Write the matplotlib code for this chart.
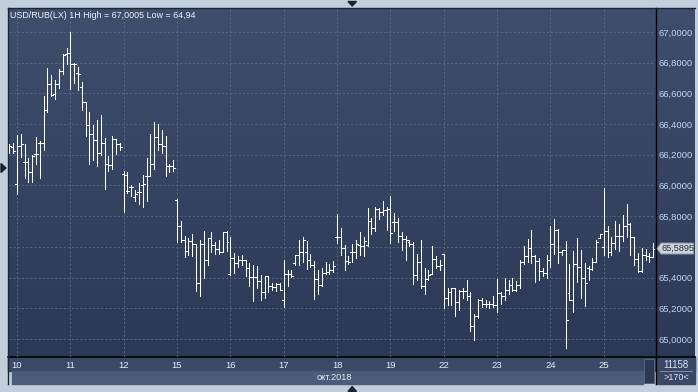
import numpy as np
import matplotlib
matplotlib.use("Agg")
import matplotlib.pyplot as plt
from matplotlib.patches import Polygon, Rectangle

plt.rcParams['font.family'] = ['Liberation Sans', 'DejaVu Sans']

W, H = 698, 392

# USD/RUB hourly bars: last 2 of 9 oct, then 14 bars per day 10..25 oct 2018
opens = [66.259, 66.250,
         66.011, 66.254, 66.154, 66.154, 66.085, 66.207, 66.276, 66.276, 66.489, 66.663, 66.593, 66.659, 66.746, 66.859,
         66.863, 66.789, 66.733, 66.641, 66.546, 66.393, 66.337, 66.298, 66.211, 66.276, 66.137, 66.133, 66.302, 66.267,
         66.072, 65.963, 65.993, 65.924, 65.959, 66.002, 66.063, 66.063, 66.141, 66.315, 66.272, 66.254, 66.128, 66.128,
         65.904, 65.735, 65.643, 65.574, 65.639, 65.622, 65.365, 65.617, 65.513, 65.657, 65.613, 65.587, 65.570, 65.696,
         65.422, 65.530, 65.496, 65.513, 65.513, 65.465, 65.404, 65.404, 65.378, 65.309, 65.413, 65.348, 65.339, 65.357,
         65.257, 65.422, 65.422, 65.496, 65.548, 65.565, 65.565, 65.517, 65.483, 65.391, 65.352, 65.430, 65.439, 65.448,
         65.665, 65.665, 65.596, 65.509, 65.565, 65.570, 65.613, 65.604, 65.613, 65.770, 65.722, 65.848, 65.830, 65.843,
         65.848, 65.761, 65.761, 65.670, 65.652, 65.635, 65.622, 65.417, 65.504, 65.348, 65.391, 65.422, 65.522, 65.474,
         65.557, 65.270, 65.309, 65.335, 65.239, 65.313, 65.313, 65.283, 65.083, 65.148, 65.252, 65.230, 65.226, 65.226,
         65.222, 65.300, 65.278, 65.317, 65.352, 65.317, 65.352, 65.504, 65.539, 65.596, 65.539, 65.509, 65.443, 65.430,
         65.513, 65.622, 65.709, 65.565, 65.578, 65.300, 65.252, 65.487, 65.470, 65.400, 65.465, 65.457, 65.504, 65.661,
         65.602, 65.702, 65.567, 65.624, 65.672, 65.672, 65.737, 65.746, 65.663, 65.524, 65.441, 65.550, 65.541, 65.537]
highs = [66.272, 66.276,
         66.326, 66.337, 66.272, 66.180, 66.198, 66.315, 66.289, 66.580, 66.763, 66.720, 66.685, 66.759, 66.859, 66.893,
         67.0005, 66.798, 66.772, 66.672, 66.546, 66.476, 66.393, 66.424, 66.459, 66.311, 66.189, 66.320, 66.302, 66.276,
         66.093, 66.089, 66.002, 65.972, 66.015, 66.067, 66.176, 66.337, 66.411, 66.398, 66.359, 66.324, 66.141, 66.167,
         65.909, 65.770, 65.674, 65.657, 65.687, 65.622, 65.648, 65.704, 65.661, 65.696, 65.635, 65.648, 65.700, 65.704,
         65.665, 65.561, 65.543, 65.548, 65.517, 65.496, 65.483, 65.474, 65.417, 65.413, 65.413, 65.365, 65.365, 65.365,
         65.513, 65.448, 65.448, 65.548, 65.643, 65.665, 65.639, 65.557, 65.509, 65.448, 65.465, 65.504, 65.491, 65.509,
         65.817, 65.722, 65.613, 65.543, 65.617, 65.648, 65.696, 65.665, 65.852, 65.787, 65.857, 65.852, 65.896, 65.857,
         65.930, 65.822, 65.787, 65.700, 65.670, 65.648, 65.635, 65.557, 65.643, 65.465, 65.448, 65.609, 65.539, 65.517,
         65.557, 65.330, 65.335, 65.335, 65.317, 65.330, 65.383, 65.309, 65.161, 65.261, 65.265, 65.252, 65.248, 65.283,
         65.391, 65.309, 65.396, 65.387, 65.396, 65.378, 65.513, 65.604, 65.652, 65.713, 65.548, 65.526, 65.465, 65.548,
         65.739, 65.783, 65.717, 65.583, 65.639, 65.487, 65.574, 65.661, 65.583, 65.496, 65.478, 65.530, 65.648, 65.687,
         65.985, 65.733, 65.667, 65.767, 65.746, 65.807, 65.880, 65.754, 65.663, 65.563, 65.593, 65.589, 65.559, 65.628]
lows = [66.211, 66.211,
        65.946, 66.185, 66.050, 66.024, 66.020, 66.141, 66.046, 66.228, 66.480, 66.580, 66.563, 66.633, 66.728, 66.789,
        66.628, 66.667, 66.620, 66.493, 66.320, 66.141, 66.163, 66.128, 66.198, 65.976, 66.093, 66.107, 66.207, 66.228,
        65.828, 65.950, 65.933, 65.902, 65.880, 65.863, 65.902, 66.059, 66.107, 66.228, 66.211, 66.063, 66.085, 66.093,
        65.630, 65.630, 65.535, 65.548, 65.543, 65.313, 65.278, 65.396, 65.483, 65.565, 65.552, 65.557, 65.565, 65.574,
        65.417, 65.430, 65.470, 65.483, 65.409, 65.343, 65.248, 65.335, 65.252, 65.265, 65.304, 65.322, 65.313, 65.317,
        65.209, 65.348, 65.404, 65.483, 65.483, 65.500, 65.457, 65.470, 65.261, 65.296, 65.343, 65.422, 65.422, 65.435,
        65.626, 65.548, 65.452, 65.491, 65.504, 65.526, 65.548, 65.543, 65.604, 65.687, 65.704, 65.783, 65.809, 65.709,
        65.626, 65.704, 65.635, 65.578, 65.517, 65.604, 65.361, 65.387, 65.330, 65.291, 65.387, 65.422, 65.461, 65.452,
        65.200, 65.222, 65.222, 65.148, 65.191, 65.265, 65.252, 65.052, 64.996, 65.135, 65.209, 65.209, 65.204, 65.209,
        65.174, 65.230, 65.252, 65.296, 65.313, 65.313, 65.335, 65.487, 65.500, 65.496, 65.370, 65.387, 65.409, 65.396,
        65.470, 65.557, 65.496, 65.548, 64.940, 65.252, 65.178, 65.370, 65.270, 65.217, 65.383, 65.448, 65.500, 65.657,
        65.546, 65.533, 65.550, 65.589, 65.576, 65.637, 65.663, 65.546, 65.485, 65.437, 65.437, 65.515, 65.502, 65.537]
closes = [66.254, 66.224,
          66.254, 66.272, 66.154, 66.085, 66.193, 66.207, 66.276, 66.489, 66.663, 66.589, 66.659, 66.746, 66.850, 66.863,
          66.789, 66.789, 66.728, 66.546, 66.393, 66.337, 66.298, 66.211, 66.276, 66.137, 66.133, 66.302, 66.267, 66.250,
          66.067, 65.963, 65.989, 65.946, 65.959, 66.007, 66.063, 66.141, 66.315, 66.272, 66.254, 66.128, 66.128, 66.115,
          65.735, 65.643, 65.574, 65.639, 65.622, 65.365, 65.617, 65.513, 65.657, 65.613, 65.587, 65.570, 65.696, 65.635,
          65.530, 65.496, 65.513, 65.513, 65.465, 65.404, 65.404, 65.378, 65.309, 65.413, 65.348, 65.339, 65.357, 65.322,
          65.422, 65.422, 65.413, 65.548, 65.565, 65.643, 65.517, 65.483, 65.391, 65.352, 65.430, 65.439, 65.448, 65.474,
          65.665, 65.596, 65.509, 65.500, 65.570, 65.622, 65.604, 65.639, 65.770, 65.722, 65.848, 65.830, 65.843, 65.848,
          65.691, 65.761, 65.670, 65.652, 65.648, 65.622, 65.417, 65.504, 65.348, 65.391, 65.417, 65.522, 65.474, 65.483,
          65.270, 65.309, 65.335, 65.239, 65.313, 65.313, 65.283, 65.083, 65.148, 65.252, 65.230, 65.226, 65.226, 65.222,
          65.300, 65.278, 65.317, 65.352, 65.317, 65.352, 65.504, 65.539, 65.596, 65.539, 65.509, 65.443, 65.430, 65.513,
          65.622, 65.709, 65.565, 65.578, 65.126, 65.252, 65.487, 65.470, 65.400, 65.365, 65.457, 65.504, 65.630, 65.683,
          65.702, 65.567, 65.624, 65.672, 65.672, 65.737, 65.746, 65.663, 65.524, 65.441, 65.550, 65.541, 65.537, 65.5895]

day_labels = ['10', '11', '12', '15', '16', '17', '18', '19', '22', '23', '24', '25']
bars_per_day = 14
first_day_bar = 2
price_ticks = [65.0, 65.2, 65.4, 65.6, 65.8, 66.0, 66.2, 66.4, 66.6, 66.8, 67.0]
title = 'USD/RUB(LX) 1H High = 67,0005 Low = 64,94'


def fx(x):
    return x / W


def fy(y):
    return 1 - y / H


fig = plt.figure(figsize=(W / 100, H / 100), dpi=100, facecolor='#c3cedc')

# background layer in pixel coords
bg = fig.add_axes([0, 0, 1, 1])
bg.set_xlim(0, W)
bg.set_ylim(H, 0)
bg.axis('off')

top = np.array([63, 78, 108]) / 255
bot = np.array([43, 57, 87]) / 255
t = np.linspace(0, 1, 256)[:, None, None]
grad = top + (bot - top) * t
bg.imshow(grad, extent=(8, 695, 357, 8), aspect='auto', origin='upper', zorder=0)

# bottom date panel
bg.add_patch(Rectangle((8, 357), 687, 14, color='#3b4967', zorder=1))
bg.add_patch(Rectangle((12, 371), 631, 12.5, color='#4c5b78', zorder=1))
bg.add_patch(Rectangle((643.5, 358.5), 10.5, 24.5, fc='#2c3853', ec='#56637c', lw=0.7, zorder=2))
bg.add_patch(Rectangle((656, 358), 39, 25.5, color='#3a4866', zorder=1))
bg.plot([660, 692], [370.5, 370.5], color='#7d8ca6', lw=0.7, zorder=3)

# frame lines
bg.plot([8, 695], [357, 357], color='black', lw=1.2, zorder=3)
bg.plot([655.5, 655.5], [8, 383.5], color='black', lw=1.0, zorder=3)
bg.plot([7.5, 7.5], [7.5, 384], color='#1c2536', lw=1.0, zorder=3)
bg.plot([7.5, 695], [7.5, 7.5], color='#1c2536', lw=1.0, zorder=3)

# small navigation triangles
tri = dict(color='#1a2333', zorder=4)
bg.add_patch(Polygon([[348, 1.5], [356.5, 1.5], [352.2, 6]], **tri))
bg.add_patch(Polygon([[348, 391.5], [356.5, 391.5], [352.2, 386.5]], **tri))
bg.add_patch(Polygon([[1, 163.5], [1, 172.5], [6, 168]], **tri))

# main chart
ax = fig.add_axes([fx(9), fy(357), 646 / W, 349 / H])
ax.set_facecolor('none')
x = np.arange(len(opens))
ax.vlines(x, lows, highs, color='white', lw=0.72, antialiased=False, zorder=3)
ax.hlines(opens, x - 0.5, x, color='white', lw=0.72, antialiased=False, zorder=3)
ax.hlines(closes, x, x + 0.5, color='white', lw=0.72, antialiased=False, zorder=3)

ax.set_xlim(-0.1, 169.45)
ax.set_ylim(64.883, 67.156)
day_pos = [first_day_bar + bars_per_day * k for k in range(len(day_labels))]
ax.set_xticks(day_pos)
ax.set_xticklabels(day_labels)
ax.set_yticks(price_ticks)
# the 65,6000 label sits under the last-price box, as in the original
ax.set_yticklabels(['' if abs(v - 65.6) < 1e-9 else f'{v:.4f}'.replace('.', ',') for v in price_ticks])
ax.yaxis.tick_right()
ax.grid(True, color='#56667f', lw=0.75, linestyle=(0, (2, 2)), zorder=1)
for s in ax.spines.values():
    s.set_visible(False)
ax.tick_params(axis='both', length=0)
ax.tick_params(axis='y', pad=2.2, labelsize=6.8, labelcolor='#c2d5f0')
ax.tick_params(axis='x', pad=2.6, labelsize=6.8, labelcolor='#e6ecf6')

fig.text(fx(10.5), fy(15.5), title, fontsize=6.4, color='#eef2f8', va='center', ha='left')
fig.text(fx(334.5), fy(377.5), 'окт.2018', fontsize=6.6, color='#e0e8f4', va='center', ha='center')
fig.text(fx(676), fy(364.5), '11158', fontsize=6.9, color='#dde6f4', va='center', ha='center')
fig.text(fx(676), fy(377.5), '>170<', fontsize=6.5, color='#dde6f4', va='center', ha='center')

# last price marker
yl = H - ax.transData.transform((0, closes[-1]))[1]
bg.add_patch(Polygon([[657, yl], [661, yl - 5.5], [693.5, yl - 5.5], [693.5, yl + 5.5], [661, yl + 5.5]],
                     fc='#cdd1da', ec='#8a93a6', lw=0.7, zorder=4))
bg.text(677.5, yl, f'{closes[-1]:.4f}'.replace('.', ','), fontsize=6.6, color='#2a3040',
        va='center', ha='center', zorder=5)

fig.savefig('out.png', dpi=100, facecolor=fig.get_facecolor())
